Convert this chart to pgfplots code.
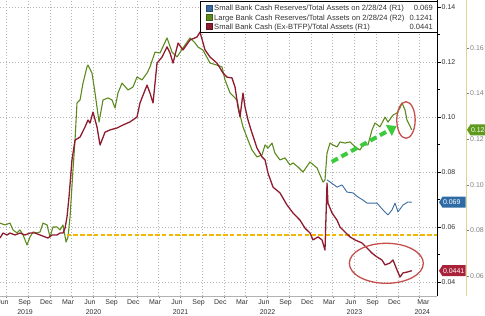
\documentclass[border=0pt]{standalone}
\usepackage{fontspec}
\setmainfont{Liberation Sans}
\usepackage{pgfplots}
\pgfplotsset{compat=1.18}
\usetikzlibrary{arrows.meta}

\definecolor{cred}{HTML}{8E1B2E}
\definecolor{cgreen}{HTML}{5C8A1E}
\definecolor{cblue}{HTML}{3B6B9E}
\definecolor{corange}{HTML}{F2B705}
\definecolor{cgrid}{HTML}{B4B4B4}
\definecolor{ctext}{HTML}{333333}
\definecolor{cr2}{HTML}{DCD68E}
\definecolor{cann}{HTML}{C6504E}
\definecolor{carrow}{HTML}{3CCB3C}
\definecolor{ctagblue}{HTML}{2F6CA6}
\definecolor{ctagred}{HTML}{A8223A}
\definecolor{ctaggreen}{HTML}{5E9A1C}

\pgfplotsset{base/.style={at={(0bp,20bp)}, anchor=south west, width=437bp, height=296bp,
  scale only axis, xmin=5.10, xmax=65.38}}
\newcommand{\tickfont}{\fontsize{7}{8}\selectfont}
\newcommand{\legfont}{\fontsize{7.6}{9}\selectfont}
\newcommand{\valtag}[3]{%
  \fill[#2] ([xshift=2bp]#1) -- ++(3.5bp,5.5bp) -- ++(23bp,0) -- ++(0,-11bp) -- ++(-23bp,0) -- cycle;
  \node[anchor=west, text=white, font=\tickfont, inner sep=0pt] at ([xshift=5.8bp]#1) {#3};}

\begin{document}
\begin{tikzpicture}
\useasboundingbox (0,0) rectangle (485bp,316bp);
\clip (0,0) rectangle (485bp,316bp);

% grid, x axis, R1 axis
\begin{axis}[base, ymin=0.034909, ymax=0.142545,
  axis x line*=bottom, axis y line*=right,
  x axis line style={draw=gray!60, line width=0.5bp},
  y axis line style={draw=black, line width=0.8bp},
  tick align=outside,
  xtick={5.5,8.5,11.5,14.5,17.5,20.5,23.5,26.5,29.5,32.5,35.5,38.5,41.5,44.5,47.5,50.5,53.5,56.5,59.5,63.5},
  xticklabels={Jun,Sep,Dec,Mar,Jun,Sep,Dec,Mar,Jun,Sep,Dec,Mar,Jun,Sep,Dec,Mar,Jun,Sep,Dec,Mar},
  minor xtick={6,9,12,15,18,21,24,27,30,33,36,39,42,45,48,51,54,57,60,63},
  xminorgrids=true, xmajorgrids=false, ymajorgrids=true,
  minor x grid style={draw=cgrid, dash pattern=on 1bp off 2bp, line width=0.6bp},
  major y grid style={draw=cgrid, dash pattern=on 1bp off 2bp, line width=0.6bp},
  major x tick style={draw=none},
  minor x tick style={draw=gray, line width=0.5bp},
  minor tick length=2.5bp, major tick length=3.5bp,
  ytick={0.04,0.06,0.08,0.10,0.12,0.14},
  minor ytick={0.05,0.07,0.09,0.11,0.13},
  minor y tick style={draw=black, line width=0.5bp},
  major y tick style={draw=black, line width=0.6bp},
  scaled y ticks=false,
  yticklabel style={font=\tickfont, text=ctext, inner sep=1bp, /pgf/number format/.cd, fixed, fixed zerofill, precision=2, assume math mode=true},
  xticklabel style={font=\tickfont, text=ctext, inner sep=0pt, yshift=0bp},
  extra x ticks={8.55,18,30,42,54,63.35},
  extra x tick labels={2019,2020,2021,2022,2023,2024},
  extra x tick style={grid=none, major x tick style={draw=none}, xticklabel style={yshift=-9.5bp}},
]
\end{axis}

% R2 axis scale
\begin{axis}[at={(465bp,20bp)}, anchor=south west, width=1bp, height=296bp, scale only axis,
  xmin=0, xmax=1, ymin=0.051228, ymax=0.181053,
  axis y line*=right, axis x line=none,
  y axis line style={draw=cr2, line width=0.9bp},
  tick align=outside, major tick length=3bp,
  ytick={0.06,0.08,0.10,0.12,0.14,0.16},
  ytick style={draw=gray, line width=0.5bp},
  scaled y ticks=false,
  yticklabel style={font=\tickfont, text=gray, inner sep=1bp, /pgf/number format/.cd, fixed, fixed zerofill, precision=2, assume math mode=true},
]
\end{axis}

% Large bank (R2)
\begin{axis}[base, ymin=0.051228, ymax=0.181053, hide axis]
\addplot[cgreen, line width=1.1bp, line join=round] coordinates {
(5.10,0.0832) (5.79,0.0824) (6.48,0.0832) (6.90,0.0802) (7.45,0.0789) (7.86,0.0802) (8.28,0.0780) (8.83,0.0736) (9.24,0.0771) (9.66,0.0793) (10.21,0.0789) (10.62,0.0793) (11.03,0.0832) (11.59,0.0824) (12.00,0.0771) (12.41,0.0815) (12.97,0.0815) (13.38,0.0802) (13.79,0.0824) (14.21,0.0749) (14.48,0.0771) (14.76,0.0859) (15.17,0.1065) (15.45,0.1196) (15.72,0.1359) (16.14,0.1372) (16.55,0.1446) (17.10,0.1517) (17.24,0.1525) (17.79,0.1490) (18.21,0.1403) (18.76,0.1275) (19.31,0.1372) (20.00,0.1381) (20.55,0.1372) (20.97,0.1337) (21.38,0.1403) (21.93,0.1446) (22.76,0.1416) (23.45,0.1429) (24.00,0.1473) (24.69,0.1460) (25.38,0.1490) (25.79,0.1517) (26.48,0.1582) (27.17,0.1578) (28.14,0.1644) (28.83,0.1582) (29.52,0.1561) (30.34,0.1600) (31.31,0.1644) (32.00,0.1622) (32.41,0.1604) (33.10,0.1591) (34.07,0.1534) (35.03,0.1525) (35.72,0.1517) (36.14,0.1460) (36.83,0.1403) (37.79,0.1372) (38.21,0.1306) (38.62,0.1254) (39.31,0.1196) (39.86,0.1153) (40.55,0.1122) (41.24,0.1131) (41.66,0.1175) (42.07,0.1161) (42.62,0.1183) (43.03,0.1139) (43.72,0.1109) (44.41,0.1118) (45.10,0.1087) (45.52,0.1096) (46.21,0.1078) (46.90,0.1056) (47.86,0.1100) (48.83,0.1074) (49.66,0.1012) (49.93,0.1021) (50.21,0.1139) (50.62,0.1183) (51.03,0.1175) (51.59,0.1166) (52.00,0.1188) (52.69,0.1183) (53.38,0.1188) (54.07,0.1166) (54.76,0.1153) (55.17,0.1175) (55.86,0.1175) (56.41,0.1240) (56.83,0.1271) (57.52,0.1254) (58.21,0.1297) (58.62,0.1275) (59.31,0.1306) (59.86,0.1315) (60.28,0.1337) (60.55,0.1359) (60.97,0.1328) (61.24,0.1284) (61.90,0.1241)};
\coordinate (tg) at (axis cs:65.38,0.1241);
\end{axis}

% Small bank series (R1)
\begin{axis}[base, ymin=0.034909, ymax=0.142545, hide axis]
\addplot[corange, line width=1.4bp, dash pattern=on 4.5bp off 2.3bp] coordinates {(14.3,0.0571) (65.38,0.0571)};
\addplot[cblue, line width=0.9bp, line join=round] coordinates {
(50.21,0.0771) (50.62,0.0764) (51.59,0.0745) (52.28,0.0753) (52.97,0.0727) (53.79,0.0724) (54.48,0.0709) (55.17,0.0698) (55.72,0.0687) (57.10,0.0687) (57.93,0.0662) (58.62,0.0644) (59.17,0.0662) (59.59,0.0687) (60.00,0.0655) (60.69,0.0680) (61.38,0.0691) (61.90,0.0690)};
\addplot[cred, line width=1.3bp, line join=round] coordinates {
(5.10,0.0560) (5.52,0.0578) (6.07,0.0571) (6.48,0.0578) (7.17,0.0571) (7.86,0.0578) (8.55,0.0571) (9.24,0.0578) (9.93,0.0578) (10.62,0.0571) (11.31,0.0564) (11.72,0.0560) (12.28,0.0571) (12.97,0.0571) (13.38,0.0578) (13.79,0.0578) (14.07,0.0596) (14.34,0.0636) (14.62,0.0709) (15.03,0.0844) (15.45,0.0916) (16.14,0.0927) (16.83,0.0964) (17.24,0.0989) (17.52,0.0978) (17.93,0.1018) (18.48,0.0964) (18.90,0.0898) (19.59,0.0945) (20.28,0.0953) (21.24,0.0960) (22.07,0.0971) (23.03,0.0982) (24.00,0.1000) (24.41,0.1051) (25.38,0.1116) (25.79,0.1087) (26.21,0.1051) (26.76,0.1196) (27.45,0.1218) (28.14,0.1255) (28.55,0.1233) (28.97,0.1196) (29.66,0.1269) (30.34,0.1244) (31.31,0.1280) (32.28,0.1291) (32.69,0.1309) (33.38,0.1244) (34.07,0.1218) (35.03,0.1196) (35.86,0.1160) (36.41,0.1145) (37.10,0.1142) (37.52,0.1109) (37.93,0.1036) (38.21,0.1000) (38.62,0.1087) (38.90,0.1036) (39.31,0.0989) (39.86,0.0942) (40.55,0.0887) (41.24,0.0855) (41.66,0.0844) (42.07,0.0796) (42.76,0.0745) (43.72,0.0724) (44.69,0.0680) (45.52,0.0651) (46.48,0.0625) (47.17,0.0596) (47.86,0.0578) (48.28,0.0553) (48.97,0.0564) (49.52,0.0553) (49.93,0.0516) (50.21,0.0760) (50.34,0.0687) (50.90,0.0651) (51.59,0.0625) (52.00,0.0600) (52.69,0.0582) (53.38,0.0564) (54.07,0.0553) (55.03,0.0542) (55.72,0.0524) (56.41,0.0505) (57.10,0.0491) (57.79,0.0480) (58.21,0.0462) (58.90,0.0469) (59.31,0.0480) (59.86,0.0444) (60.28,0.0418) (60.69,0.0433) (61.24,0.0436) (61.90,0.0441)};
% annotations
\draw[cann, line width=1.3bp] (axis cs:61.10,0.0989) ellipse [x radius=9.2bp, y radius=18.3bp];
\draw[cann, line width=1.3bp] (axis cs:58.39,0.0468) ellipse [x radius=37bp, y radius=20bp];
\draw[carrow, line width=4bp, dash pattern=on 7bp off 4bp, -{Triangle[length=9bp,width=12bp]}] (axis cs:50.86,0.0837) -- (axis cs:59.82,0.0967);
\coordinate (tb) at (axis cs:65.38,0.069);
\coordinate (tr) at (axis cs:65.38,0.0441);
\end{axis}

% value tags
\coordinate (tg2) at ([xshift=28bp]tg);
\valtag{tb}{ctagblue}{0.069}
\valtag{tr}{ctagred}{0.0441}
\valtag{tg2}{ctaggreen}{0.124}

% legend
\draw[black, line width=0.7bp, fill=white] (200.5bp,314.8bp) rectangle (437bp,284bp);
\foreach \yy/\cc/\txt/\vv in {307.7/cblue/{Small Bank Cash Reserves/Total Assets on 2/28/24 (R1)}/0.069,
                        298.3/cgreen/{Large Bank Cash Reserves/Total Assets on 2/28/24 (R2)}/0.1241,
                        289.3/cred/{Small Bank Cash (Ex-BTFP)/Total Assets (R1)}/0.0441}{
  \filldraw[fill=\cc, draw=\cc!70!black, line width=0.4bp] (206bp,\yy bp-2.9bp) rectangle (212bp,\yy bp+3bp);
  \node[anchor=base west, inner sep=0pt, font=\legfont, text=ctext] at (214bp,\yy bp-2.7bp) {\txt};
  \node[anchor=base east, inner sep=0pt, font=\legfont, text=ctext] at (433bp,\yy bp-2.7bp) {\vv};
}
\end{tikzpicture}
\end{document}
